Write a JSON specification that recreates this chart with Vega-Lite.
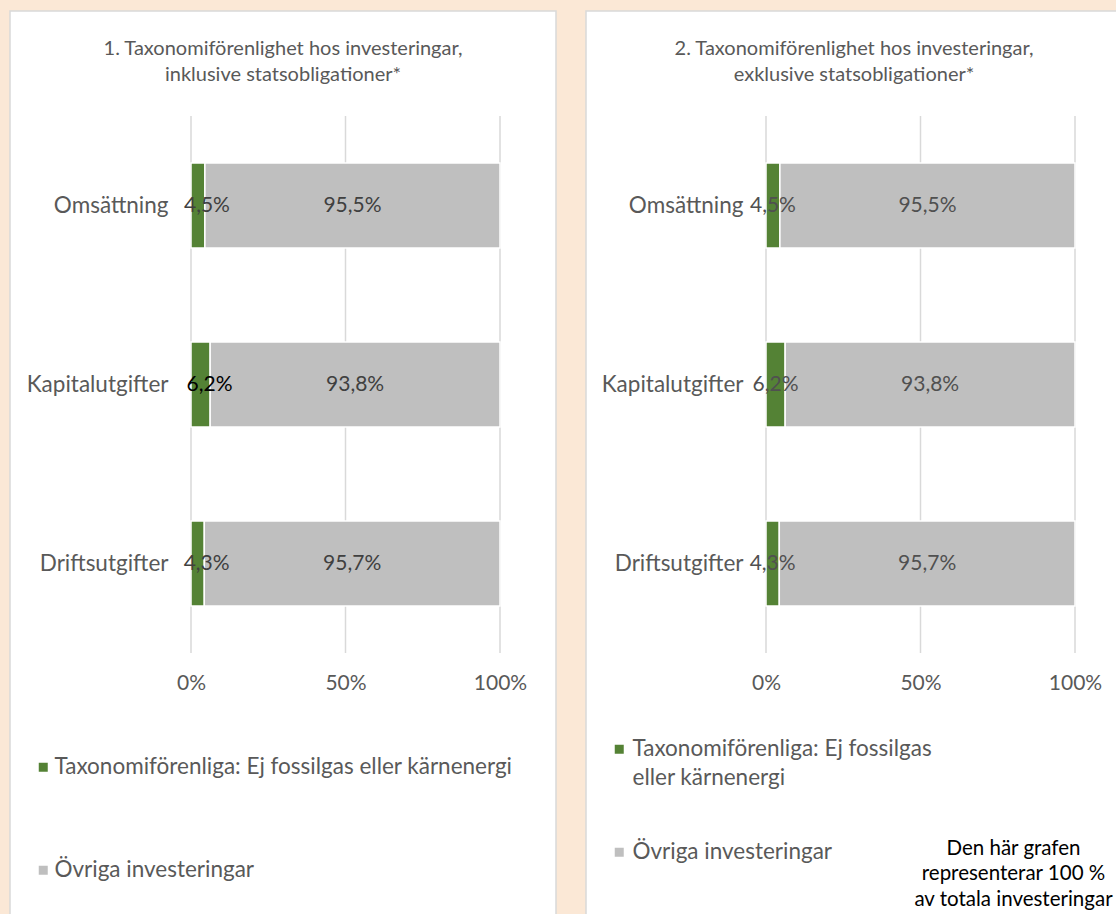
{
  "$schema": "https://vega.github.io/schema/vega-lite/v6.json",
  "background": "#FBE8D6",
  "padding": {"left": 9, "top": 10, "right": 0, "bottom": 0},
  "config": {
    "font": "Lato",
    "view": {"fill": "white", "stroke": "#D9D9D9", "strokeWidth": 1.5},
    "style": {"guide-label": {"lineHeight": 29}},
    "locale": {"number": {"decimal": ",", "thousands": " ", "grouping": [3], "currency": ["", " kr"]}}
  },
  "spacing": 28,
  "datasets": {
    "inkl": [
      {"kategori": "Omsättning", "serie": "Taxonomiförenliga: Ej fossilgas eller kärnenergi", "andel": 0.045},
      {"kategori": "Omsättning", "serie": "Övriga investeringar", "andel": 0.955},
      {"kategori": "Kapitalutgifter", "serie": "Taxonomiförenliga: Ej fossilgas eller kärnenergi", "andel": 0.062},
      {"kategori": "Kapitalutgifter", "serie": "Övriga investeringar", "andel": 0.938},
      {"kategori": "Driftsutgifter", "serie": "Taxonomiförenliga: Ej fossilgas eller kärnenergi", "andel": 0.043},
      {"kategori": "Driftsutgifter", "serie": "Övriga investeringar", "andel": 0.957}
    ],
    "exkl": [
      {"kategori": "Omsättning", "serie": "Taxonomiförenliga: Ej fossilgas eller kärnenergi", "andel": 0.045},
      {"kategori": "Omsättning", "serie": "Övriga investeringar", "andel": 0.955},
      {"kategori": "Kapitalutgifter", "serie": "Taxonomiförenliga: Ej fossilgas eller kärnenergi", "andel": 0.062},
      {"kategori": "Kapitalutgifter", "serie": "Övriga investeringar", "andel": 0.938},
      {"kategori": "Driftsutgifter", "serie": "Taxonomiförenliga: Ej fossilgas eller kärnenergi", "andel": 0.043},
      {"kategori": "Driftsutgifter", "serie": "Övriga investeringar", "andel": 0.957}
    ]
  },
  "hconcat": [
    {
      "width": 546,
      "height": 912,
      "title": {"text": ["1. Taxonomiförenlighet hos investeringar,", "inklusive statsobligationer*"], "fontSize": 20, "fontWeight": "normal", "color": "#595959", "anchor": "middle", "offset": -74, "lineHeight": 26},
      "data": {"name": "inkl"},
      "layer": [
        {"data": {"values": [{}]}, "mark": {"type": "rule", "color": "#D9D9D9", "strokeWidth": 1.5},
         "encoding": {"x": {"datum": 0, "type": "quantitative"}, "y": {"datum": "Omsättning", "type": "nominal", "bandPosition": 0}, "y2": {"datum": "Driftsutgifter", "bandPosition": 1}}},
        {"data": {"values": [{}]}, "mark": {"type": "rule", "color": "#D9D9D9", "strokeWidth": 1.5},
         "encoding": {"x": {"datum": 0.5, "type": "quantitative"}, "y": {"datum": "Omsättning", "type": "nominal", "bandPosition": 0}, "y2": {"datum": "Driftsutgifter", "bandPosition": 1}}},
        {"data": {"values": [{}]}, "mark": {"type": "rule", "color": "#D9D9D9", "strokeWidth": 1.5},
         "encoding": {"x": {"datum": 1, "type": "quantitative"}, "y": {"datum": "Omsättning", "type": "nominal", "bandPosition": 0}, "y2": {"datum": "Driftsutgifter", "bandPosition": 1}}},
        {
          "mark": {"type": "bar", "height": {"band": 0.475}, "stroke": "white", "strokeWidth": 1.5},
          "encoding": {
            "y": {"field": "kategori", "type": "nominal",
                  "scale": {"domain": ["Omsättning", "Kapitalutgifter", "Driftsutgifter"], "range": [105, 642], "paddingInner": 0, "paddingOuter": 0},
                  "axis": {"title": null, "domain": false, "ticks": false, "grid": false, "offset": -181, "labelPadding": 23, "labelFontSize": 22.5, "labelColor": "#595959", "labelLimit": 300}},
            "x": {"field": "andel", "type": "quantitative", "stack": "zero",
                  "scale": {"domain": [0, 1], "range": [181, 490], "nice": false},
                  "axis": {"title": null, "domain": false, "ticks": false, "grid": false, "offset": -262, "labelPadding": 11, "values": [0, 0.5, 1], "format": ".0%", "labelFontSize": 21, "labelColor": "#595959", "labelFlush": false}},
            "color": {"field": "serie", "type": "nominal",
                      "scale": {"domain": ["Taxonomiförenliga: Ej fossilgas eller kärnenergi", "Övriga investeringar"], "range": ["#548235", "#BFBFBF"]},
                      "legend": {"orient": "none", "legendX": 22, "legendY": 745, "title": null, "direction": "vertical", "padding": 0, "symbolType": "square", "symbolSize": 81, "symbolStrokeWidth": 0, "labelFontSize": 22.5, "labelColor": "#595959", "labelOffset": 0, "labelLimit": 700, "rowPadding": 80}},
            "order": {"field": "serie", "type": "ordinal", "sort": "ascending"}
          }
        },
        {
          "transform": [
            {"stack": "andel", "groupby": ["kategori"], "sort": [{"field": "serie", "order": "ascending"}], "as": ["s0", "s1"]},
            {"fold": ["s0", "s1"]},
            {"aggregate": [{"op": "mean", "field": "value", "as": "mid"}], "groupby": ["kategori", "serie", "andel"]},
            {"filter": "datum.andel < 0.5"}
          ],
          "mark": {"type": "text", "fontSize": 21, "dx": 9},
          "encoding": {
            "y": {"field": "kategori", "type": "nominal"},
            "x": {"field": "mid", "type": "quantitative"},
            "text": {"field": "andel", "type": "quantitative", "format": ".1%"},
            "color": {"condition": {"test": "datum.kategori == 'Kapitalutgifter'", "value": "#000000"}, "value": "#404040"}
          }
        },
        {
          "transform": [
            {"stack": "andel", "groupby": ["kategori"], "sort": [{"field": "serie", "order": "ascending"}], "as": ["s0", "s1"]},
            {"fold": ["s0", "s1"]},
            {"aggregate": [{"op": "mean", "field": "value", "as": "mid"}], "groupby": ["kategori", "serie", "andel"]},
            {"filter": "datum.andel >= 0.5"}
          ],
          "mark": {"type": "text", "fontSize": 21, "color": "#404040"},
          "encoding": {
            "y": {"field": "kategori", "type": "nominal"},
            "x": {"field": "mid", "type": "quantitative"},
            "text": {"field": "andel", "type": "quantitative", "format": ".1%"}
          }
        }
      ]
    },
    {
      "width": 536,
      "height": 912,
      "title": {"text": ["2. Taxonomiförenlighet hos investeringar,", "exklusive statsobligationer*"], "fontSize": 20, "fontWeight": "normal", "color": "#595959", "anchor": "middle", "offset": -74, "lineHeight": 26},
      "data": {"name": "exkl"},
      "layer": [
        {"data": {"values": [{}]}, "mark": {"type": "rule", "color": "#D9D9D9", "strokeWidth": 1.5},
         "encoding": {"x": {"datum": 0, "type": "quantitative"}, "y": {"datum": "Omsättning", "type": "nominal", "bandPosition": 0}, "y2": {"datum": "Driftsutgifter", "bandPosition": 1}}},
        {"data": {"values": [{}]}, "mark": {"type": "rule", "color": "#D9D9D9", "strokeWidth": 1.5},
         "encoding": {"x": {"datum": 0.5, "type": "quantitative"}, "y": {"datum": "Omsättning", "type": "nominal", "bandPosition": 0}, "y2": {"datum": "Driftsutgifter", "bandPosition": 1}}},
        {"data": {"values": [{}]}, "mark": {"type": "rule", "color": "#D9D9D9", "strokeWidth": 1.5},
         "encoding": {"x": {"datum": 1, "type": "quantitative"}, "y": {"datum": "Omsättning", "type": "nominal", "bandPosition": 0}, "y2": {"datum": "Driftsutgifter", "bandPosition": 1}}},
        {
          "mark": {"type": "bar", "height": {"band": 0.475}, "stroke": "white", "strokeWidth": 1.5},
          "encoding": {
            "y": {"field": "kategori", "type": "nominal",
                  "scale": {"domain": ["Omsättning", "Kapitalutgifter", "Driftsutgifter"], "range": [105, 642], "paddingInner": 0, "paddingOuter": 0},
                  "axis": {"title": null, "domain": false, "ticks": false, "grid": false, "offset": -180, "labelPadding": 23, "labelFontSize": 22.5, "labelColor": "#595959", "labelLimit": 300}},
            "x": {"field": "andel", "type": "quantitative", "stack": "zero",
                  "scale": {"domain": [0, 1], "range": [180, 489], "nice": false},
                  "axis": {"title": ["Den här grafen", "representerar 100 %", "av totala investeringar"], "titleColor": "#000000", "titleFontSize": 20.5, "titleFontWeight": "normal", "titleAlign": "center", "titleBaseline": "top", "titleLineHeight": 25.5, "titleX": 427, "titleY": 177,
                           "domain": false, "ticks": false, "grid": false, "offset": -262, "labelPadding": 11, "values": [0, 0.5, 1], "format": ".0%", "labelFontSize": 21, "labelColor": "#595959", "labelFlush": false}},
            "color": {"field": "serie", "type": "nominal",
                      "scale": {"domain": ["Taxonomiförenliga: Ej fossilgas eller kärnenergi", "Övriga investeringar"], "range": ["#548235", "#BFBFBF"]},
                      "legend": {"orient": "none", "legendX": 22, "legendY": 727, "title": null, "direction": "vertical", "padding": 0, "symbolType": "square", "symbolSize": 81, "symbolStrokeWidth": 0, "labelFontSize": 22.5, "labelColor": "#595959", "labelOffset": 2, "labelLimit": 700, "rowPadding": 51,
                                 "labelExpr": "datum.label == 'Övriga investeringar' ? datum.label : ['Taxonomiförenliga: Ej fossilgas', 'eller kärnenergi']"}},
            "order": {"field": "serie", "type": "ordinal", "sort": "ascending"}
          }
        },
        {
          "transform": [
            {"stack": "andel", "groupby": ["kategori"], "sort": [{"field": "serie", "order": "ascending"}], "as": ["s0", "s1"]},
            {"fold": ["s0", "s1"]},
            {"aggregate": [{"op": "mean", "field": "value", "as": "mid"}], "groupby": ["kategori", "serie", "andel"]}
          ],
          "mark": {"type": "text", "fontSize": 21, "color": "#505050"},
          "encoding": {
            "y": {"field": "kategori", "type": "nominal"},
            "x": {"field": "mid", "type": "quantitative"},
            "text": {"field": "andel", "type": "quantitative", "format": ".1%"}
          }
        }
      ]
    }
  ],
  "resolve": {"scale": {"x": "independent", "y": "independent", "color": "independent"}, "legend": {"color": "independent"}}
}
